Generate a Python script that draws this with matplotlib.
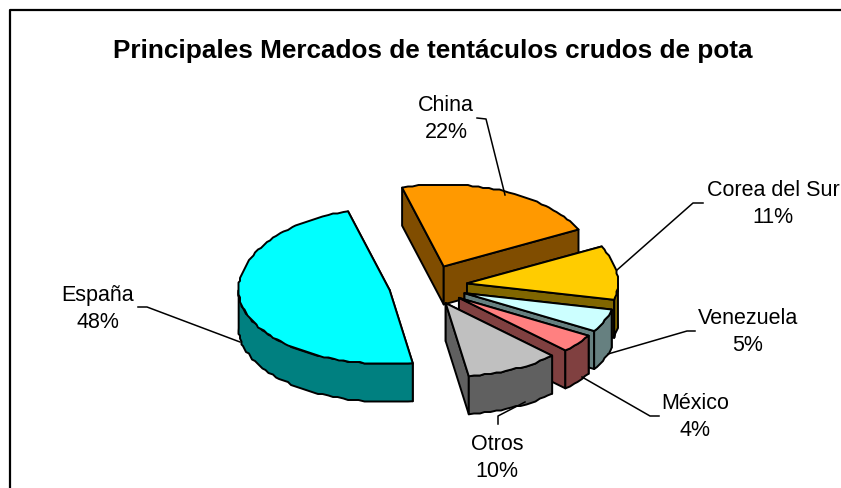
import numpy as np
import matplotlib
matplotlib.use("Agg")
import matplotlib.pyplot as plt
from matplotlib.patches import Polygon

plt.rcParams['font.family'] = ['Liberation Sans', 'DejaVu Sans']

title = "Principales Mercados de tentáculos crudos de pota"
categories = ["China", "Corea del Sur", "Venezuela", "México", "Otros", "España"]
values = [22, 11, 5, 4, 10, 48]
percent_labels = ["22%", "11%", "5%", "4%", "10%", "48%"]
top_colors = ["#FF9900", "#FFCC00", "#CCFFFF", "#FF8080", "#C0C0C0", "#00FFFF"]
wall_colors = ["#804D00", "#806600", "#668080", "#804040", "#606060", "#008080"]

# pie geometry in pixels
cx, cy = 428, 287
rx = 151
ry_back, ry_front = 82, 74  # perspective squeezes the front half
depth = 38
explode = 0.26
start_angle = -16  # degrees clockwise from north

# label centre and leader line, in pixels
label_xy = [(446, 119), (773, 204), (748, 332), (695, 417), (497, 458), (98, 309)]
leaders = [
    [(477, 119), (486, 120), (505, 196)],
    [(703, 204), (693, 204), (617, 271)],
    [(695, 332), (687, 332), (608, 355)],
    [(659, 417), (650, 417), (582, 378)],
    [(498, 425), (498, 417), (525, 403)],
    [(138, 308), (147, 308), (240, 343)],
]


def offset_y(t):
    c = np.cos(t)
    return -np.where(c > 0, ry_back, ry_front) * c


def rim(ax_x, ax_y, t):
    t = np.radians(t)
    pts = np.column_stack([ax_x + rx * np.sin(t), ax_y + offset_y(t)])
    # original arcs are a bit rough, snap them to a pixel grid
    pts[1:-1] = np.round(pts[1:-1] / 1.5) * 1.5
    return pts


def draw_slice(ax, t0, t1, top_c, wall_c):
    mid = np.radians((t0 + t1) / 2)
    ax_x = cx + explode * rx * np.sin(mid)
    ax_y = cy + explode * offset_y(mid)
    apex = np.array([[ax_x, ax_y]])
    n = max(int((t1 - t0) / 2), 4)
    arc = rim(ax_x, ax_y, np.linspace(t0, t1, n))
    down = np.array([0, depth])

    # radial walls, back one first
    walls = []
    for p in (arc[0], arc[-1]):
        walls.append(np.array([apex[0], p, p + down, apex[0] + down]))
    walls.sort(key=lambda w: w[:, 1].mean())
    for w in walls:
        ax.add_patch(Polygon(w, fc=wall_c, ec="black", lw=1.4, joinstyle="round"))

    # outer wall, only the part that faces the viewer
    lo, hi = max(t0, 90), min(t1, 270)
    if hi > lo:
        front = rim(ax_x, ax_y, np.linspace(lo, hi, max(int((hi - lo) / 2), 4)))
        ax.add_patch(Polygon(np.vstack([front, (front + down)[::-1]]),
                             fc=wall_c, ec="black", lw=1.4, joinstyle="round"))

    ax.add_patch(Polygon(np.vstack([apex, arc]), fc=top_c, ec="black", lw=1.4,
                         joinstyle="round"))


fig = plt.figure(figsize=(8.41, 4.89), dpi=100)
ax = fig.add_axes([0, 0, 1, 1])
ax.set_xlim(0, 841)
ax.set_ylim(489, 0)
ax.axis("off")

# chart frame runs off the picture at right and bottom
ax.plot([10, 10, 845], [495, 11, 11], color="black", lw=1.6)

ax.text(433, 51, title, ha="center", va="center", fontsize=18.8, fontweight="bold")

edges = start_angle + np.cumsum([0] + values) * 3.6
# España first, the others then overlap clockwise
order = [5, 0, 1, 2, 3, 4]
for i in order:
    draw_slice(ax, edges[i], edges[i + 1], top_colors[i], wall_colors[i])

for line in leaders:
    xs, ys = zip(*line)
    ax.plot(xs, ys, color="black", lw=1.1)

for name, pct, (x, y) in zip(categories, percent_labels, label_xy):
    ax.text(x, y, name + "\n" + pct, ha="center", va="center", fontsize=15.5,
            linespacing=1.34)

fig.savefig("out.png", dpi=100)
